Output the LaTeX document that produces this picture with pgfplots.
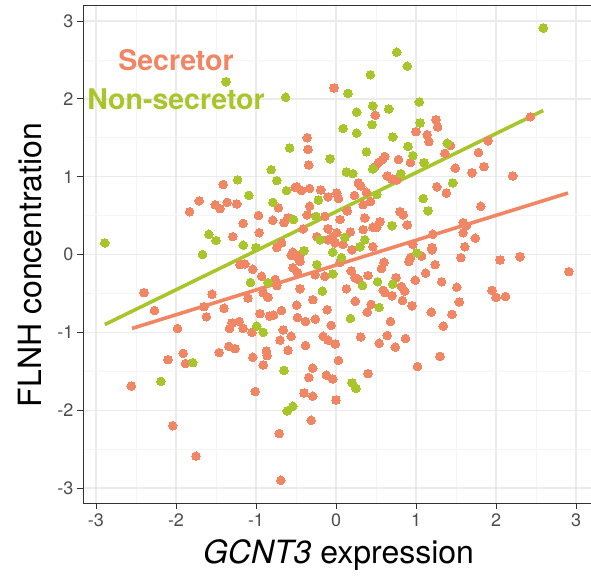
\documentclass[border=0pt]{standalone}
\usepackage{pgfplots}
\pgfplotsset{compat=1.18}
\usepackage{fontspec}
\setmainfont{TeX Gyre Heros}
\definecolor{secr}{RGB}{240,134,100}
\definecolor{nonsecr}{RGB}{168,198,44}
\definecolor{gridmaj}{RGB}{235,235,235}
\definecolor{gridmin}{RGB}{245,245,245}
\definecolor{frame}{RGB}{51,51,51}
\definecolor{ticklab}{RGB}{77,77,77}
\begin{document}
\begin{tikzpicture}
\path[use as bounding box] (-83pt,-78pt) rectangle (508pt,503pt);
\begin{axis}[
  at={(0pt,0pt)}, anchor=south west,
  scale only axis, width=510pt, height=498pt,
  xmin=-3.1625, xmax=3.2125, ymin=-3.193, ymax=3.206,
  xtick={-3,...,3}, ytick={-3,...,3},
  minor tick num=1, minor tick length=0pt,
  grid=both,
  major grid style={draw=gridmaj, line width=1.3pt},
  minor grid style={draw=gridmin, line width=0.8pt},
  axis line style={draw=frame, line width=0.9pt},
  tick align=outside, major tick length=6pt,
  tick style={draw=frame, line width=0.9pt},
  xtick pos=bottom, ytick pos=left,
  /pgf/number format/assume math mode=true,
  ticklabel style={font=\fontsize{18}{20}\selectfont, text=ticklab},
  xticklabel style={yshift=-1pt},
  xlabel={\textit{GCNT3} expression},
  ylabel={FLNH concentration},
  label style={font=\fontsize{32}{36}\selectfont},
  xlabel style={at={(axis description cs:0.501,-0.104)}, anchor=center},
  ylabel style={at={(axis description cs:-0.104,0.478)}, anchor=center, rotate=0},
  clip=true,
]
% secretor samples
\addplot[secr, only marks, mark=*, mark size=4.3pt, mark options={draw=secr, fill=secr, line width=0pt}] coordinates {
(-0.025,2.14) (-0.36,1.50) (-0.35,1.35) (-0.34,1.15) (-1.41,0.90) (-0.49,0.87) (-0.43,0.82) (-0.33,0.85) (-0.51,0.86)
(-0.19,0.83) (-0.10,0.74) (0.01,0.79) (-1.71,0.69) (-1.83,0.55) (-1.51,0.64) (-1.45,0.59) (-1.36,0.67) (-1.24,0.65)
(-0.72,0.60) (-0.33,0.62) (-0.97,0.50) (-0.36,0.51) (-0.79,0.44) (-0.65,0.41) (-0.60,0.47) (-0.14,0.49) (-1.16,0.40)
(-0.41,0.33) (-0.10,0.33) (-0.96,0.28) (-1.29,0.23) (-0.24,0.23) (-0.10,0.19) (-0.04,0.23) (-0.68,0.15) (-0.74,0.09)
(-0.54,0.03) (-0.45,0.00) (-0.56,-0.01) (-0.49,-0.03) (-0.45,-0.09) (-1.20,-0.13) (-1.14,-0.12) (-1.04,-0.19)
(-0.54,-0.17) (-0.48,-0.23) (-0.93,-0.28) (-0.76,-0.32) (-0.74,-0.40) (-0.14,-0.28) (-0.26,-0.26) (-0.91,-0.49)
(-0.85,-0.55) (-0.45,-0.44) (-1.10,-0.56) (-0.29,-0.58) (-2.40,-0.49) (-2.27,-0.72) (-1.55,-0.51) (-1.65,-0.67)
(-1.62,-0.80) (-1.40,-0.69) (-0.95,-0.76) (-0.83,-0.79) (-0.78,-0.78) (-0.68,-0.72) (-0.49,-0.65) (-0.11,-0.71)
(-0.48,-0.81) (-0.38,-0.86) (-0.26,-0.83) (-0.06,-0.91) (-1.30,-0.88) (-1.21,-0.86) (-1.16,-0.95) (-1.33,-0.95)
(-1.05,-1.00) (-1.98,-0.95) (-0.66,-0.97) (-0.56,-1.05) (-0.70,-1.10) (-0.16,-1.05) (-0.10,-1.10) (-0.01,-1.15)
(-0.38,-1.17) (-1.34,-1.18) (-1.26,-1.21) (-1.46,-1.26) (-0.60,-1.23) (-1.91,-1.27) (-1.88,-1.40) (-2.10,-1.35)
(-0.87,-1.24) (-0.86,-1.30) (-1.04,-1.32) (-0.91,-1.42) (0.03,-1.36) (-0.29,-1.46) (-0.34,-1.58) (-0.12,-1.55)
(-0.04,-1.60) (-2.56,-1.69) (-1.01,-1.76) (-0.40,-1.78) (-0.29,-1.82) (0.00,-1.87) (-0.31,-2.13) (-2.04,-2.20)
(-0.71,-2.30) (-1.75,-2.59) (-0.69,-2.90)
(0.93,-0.04) (0.91,-0.09) (1.07,-0.02) (1.20,0.06) (1.56,-0.04) (2.05,-0.07) (2.30,-0.03) (2.91,-0.22) (1.24,-0.13)
(1.12,-0.24) (0.60,-0.10) (0.57,-0.18) (0.05,-0.10) (0.19,-0.21) (0.24,-0.30) (0.28,-0.32) (0.40,-0.27) (0.75,-0.30)
(0.82,-0.41) (0.86,-0.47) (0.99,-0.33) (1.32,-0.35) (1.51,-0.42) (1.95,-0.46) (2.00,-0.55) (2.12,-0.54) (0.13,-0.44)
(0.59,-0.46) (0.61,-0.49) (0.70,-0.53) (0.83,-0.59) (0.24,-0.60) (0.44,-0.64) (0.39,-0.74) (0.95,-0.66) (1.54,-0.61)
(1.19,-0.74) (1.45,-0.77) (1.34,-0.92) (0.68,-0.86) (0.64,-1.04) (0.54,-1.14) (0.31,-1.06) (0.87,-1.08) (0.74,-1.19)
(1.30,-1.31) (1.02,-1.44) (0.40,-1.53)
(0.49,1.79) (1.25,1.73) (1.27,1.64) (1.00,1.58) (1.14,1.54) (1.16,1.45) (2.43,1.77) (1.90,1.46) (1.43,1.40)
(1.78,1.31) (1.36,1.30) (0.93,1.18) (0.78,1.22) (0.61,1.26) (0.58,1.22) (0.53,1.18) (0.49,1.13) (1.85,1.13)
(1.49,1.11) (1.70,1.05) (2.21,1.01) (0.64,1.01) (0.70,0.97) (0.76,0.96) (1.26,0.87) (1.38,0.79) (0.28,0.92)
(0.31,0.88) (0.03,0.72) (0.23,0.76) (0.38,0.80) (0.43,0.68) (0.34,0.64) (1.81,0.62) (0.14,0.56) (0.36,0.47)
(0.05,0.45) (0.80,0.55) (0.84,0.51) (0.89,0.38) (0.55,0.42) (0.46,0.35) (0.51,0.35) (0.34,0.32) (0.18,0.29)
(1.59,0.41) (1.63,0.37) (1.59,0.28) (1.74,0.21) (1.21,0.26) (1.61,0.10) (1.20,0.09) (0.96,0.13) (0.46,0.10)
(0.01,0.28) (-0.01,0.15) (0.09,0.13) (0.20,0.06)
};
% non-secretor samples
\addplot[nonsecr, only marks, mark=*, mark size=4.3pt, mark options={draw=nonsecr, fill=nonsecr, line width=0pt}] coordinates {
(-1.375,2.22) (-0.63,2.02) (0.09,1.62) (-0.58,1.37) (-0.075,1.23) (-0.81,1.09) (-0.74,0.95) (-1.23,0.96) (-1.09,0.76)
(-0.62,0.82) (-0.22,0.70) (-0.79,0.67) (-0.53,0.45) (-0.25,0.49) (-1.59,0.26) (-1.50,0.18) (-0.20,0.19) (-1.16,0.12)
(-1.00,0.09) (-0.40,0.05) (-2.89,0.15) (-1.67,0.00) (-0.04,0.03) (-0.24,-0.13) (-0.04,-0.25) (-1.07,-0.36)
(-0.85,-0.36) (-0.17,-0.47) (-0.99,-0.92) (-0.91,-1.00) (-1.79,-1.39) (-0.65,-1.49) (-2.19,-1.63) (-0.61,-2.01)
(-0.54,-1.95) (1.01,0.02) (0.07,-0.04) (0.33,-0.40) (0.52,-0.35) (0.71,-0.38) (0.54,-0.68) (0.18,-0.82) (0.20,-1.65)
(0.25,-1.72) (2.59,2.91) (0.76,2.60) (0.89,2.42) (0.43,2.31) (0.15,2.07) (1.04,1.96) (0.26,1.83) (0.46,1.91)
(0.66,1.87) (0.26,1.56) (0.45,1.67) (1.05,1.69) (0.71,1.51) (0.90,1.39) (1.39,1.43) (0.38,1.32) (0.96,1.27)
(1.10,1.18) (0.13,1.06) (0.21,1.04) (0.46,1.10) (0.81,1.04) (1.46,0.92) (0.51,0.77) (1.09,0.72) (1.15,0.56)
(0.70,0.37) (0.11,0.22) (0.36,0.19) (0.30,0.10)
};
% fitted lines
\addplot[secr, line width=3.6pt] coordinates {(-2.55,-0.95) (2.90,0.79)};
\addplot[nonsecr, line width=3.6pt] coordinates {(-2.89,-0.90) (2.59,1.85)};
\node[font=\fontsize{28.5}{30}\selectfont\bfseries, text=secr] at (axis cs:-2.0,2.50) {Secretor};
\node[font=\fontsize{28.5}{30}\selectfont\bfseries, text=nonsecr] at (axis cs:-2.0,2.00) {Non-secretor};
\end{axis}
\end{tikzpicture}
\end{document}
